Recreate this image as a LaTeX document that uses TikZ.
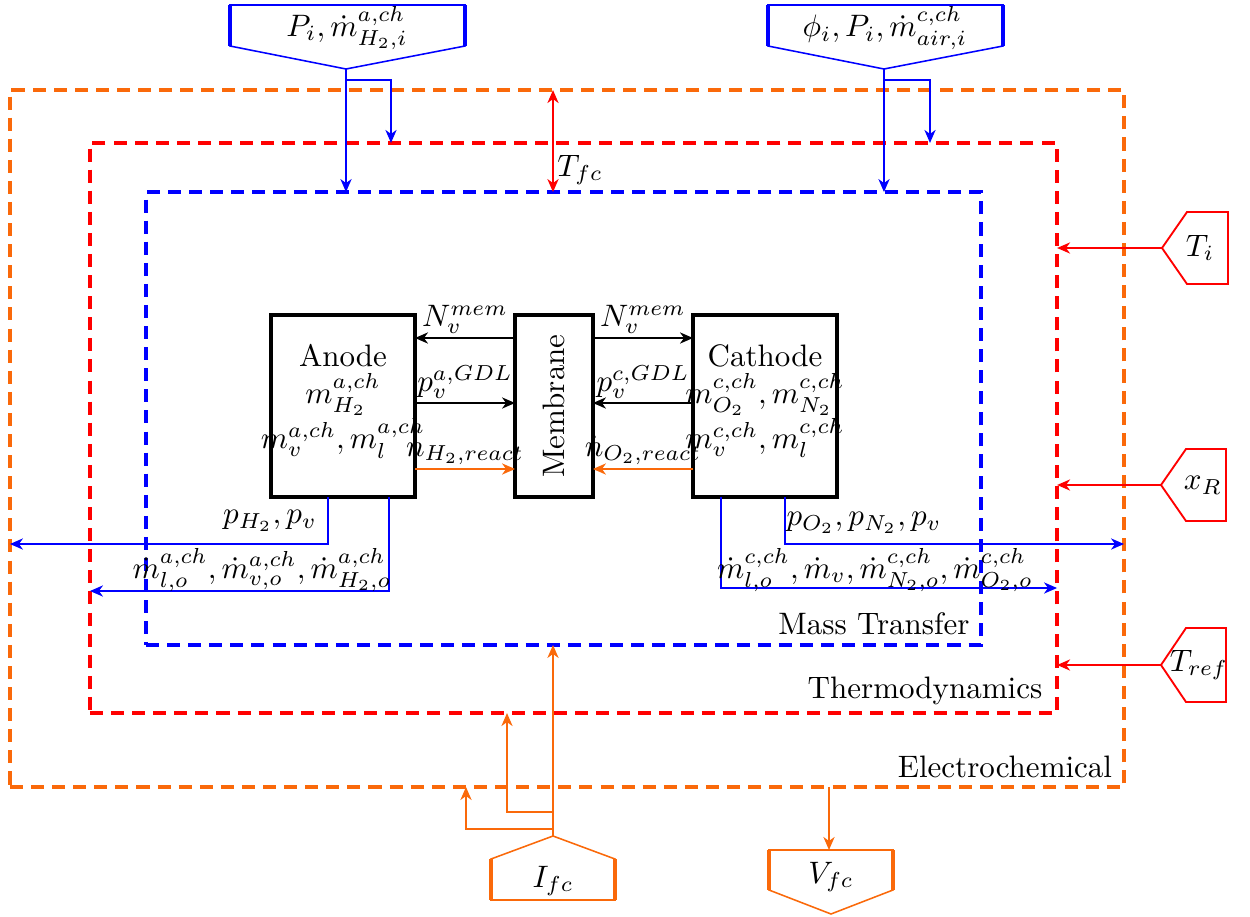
\documentclass[tikz,border=0pt]{standalone}
\usetikzlibrary{arrows.meta}
\definecolor{myorange}{RGB}{250,105,10}
\begin{document}
\begin{tikzpicture}[x=0.3224pt,y=-0.3224pt,
  frame/.style={draw, line width=1.2pt, dash pattern=on 4.2pt off 2.6pt, inner sep=0pt, outer sep=0pt},
  blk/.style={draw, line width=1.2pt, inner sep=0pt, outer sep=0pt},
  tip/.style={-{Stealth[length=4.2pt,width=3.6pt,inset=1.3pt]}},
  bothtip/.style={{Stealth[length=4.2pt,width=3.6pt,inset=1.3pt]}-{Stealth[length=4.2pt,width=3.6pt,inset=1.3pt]}},
  karrow/.style={tip, line width=0.6pt, black},
  barrow/.style={tip, line width=0.6pt, blue},
  rarrow/.style={tip, line width=0.6pt, red},
  oarrow/.style={tip, line width=0.6pt, myorange},
  lbl/.style={inner sep=1pt},
  sigthin/.style={line width=0.5pt},
  sigside/.style={line width=1.4pt},
]
\useasboundingbox (0,0) rectangle (1250,917);

% frames
\node[frame, draw=myorange, minimum width=359.2pt, minimum height=224.7pt] (elec) at (567,438.5) {};
\node[frame, draw=red, minimum width=311.8pt, minimum height=183.8pt] (thermo) at (573.5,428) {};
\node[frame, draw=blue, minimum width=269.2pt, minimum height=146.0pt] (mass) at (563.5,418.5) {};

\node (lmass) at (874,624) {Mass Transfer};
\node (ltherm) at (925,691) {Thermodynamics};
\node (lelec) at (1005,767) {Electrochemical};

% boxes
\node[blk, minimum width=46.4pt, minimum height=58.7pt] (anode) at (343,406) {};
\node[align=center, inner sep=0pt] (anodetxt) at (343,401) {Anode\\ $m^{a,ch}_{H_2}$\\ $m^{a,ch}_v, m^{a,ch}_l$};
\node[blk, minimum width=25.1pt, minimum height=58.7pt] (membrane) at (554,406) {};
\node[rotate=90] (memtxt) at (554,406) {Membrane};
\node[blk, minimum width=46.4pt, minimum height=58.7pt] (cathode) at (765,406) {};
\node[align=center, inner sep=0pt] (cathodetxt) at (765,401) {Cathode\\ $m^{c,ch}_{O_2}, m^{c,ch}_{N_2}$\\ $m^{c,ch}_v, m^{c,ch}_l$};

% arrows between boxes
\draw[karrow] (membrane.west |- 0,338) -- node[lbl, above] {$N_v^{mem}$} (anode.east |- 0,338);
\draw[karrow] (membrane.east |- 0,338) -- node[lbl, above] {$N_v^{mem}$} (cathode.west |- 0,338);
\draw[karrow] (anode.east |- 0,403) -- node[lbl, above] {$p_v^{a,GDL}$} (membrane.west |- 0,403);
\draw[karrow] (cathode.west |- 0,403) -- node[lbl, above] {$p_v^{c,GDL}$} (membrane.east |- 0,403);
\draw[oarrow] (anode.east |- 0,469) -- node[lbl, above, black] {$\dot n_{H_2,react}$} (membrane.west |- 0,469);
\draw[oarrow] (cathode.west |- 0,469) -- node[lbl, above, black] {$\dot n_{O_2,react}$} (membrane.east |- 0,469);

% outputs
\draw[barrow] (anode.south -| 328,0) |- (elec.west |- 0,544);
\node (lph2) at (270,521) {$p_{H_2}, p_v$};
\draw[barrow] (anode.south -| 389,0) |- (thermo.west |- 0,591);
\node (lma) at (262,570) {$\dot m^{a,ch}_{l,o}, \dot m^{a,ch}_{v,o}, \dot m^{a,ch}_{H_2,o}$};
\draw[barrow] (cathode.south -| 785,0) |- (elec.east |- 0,544);
\node (lpo2) at (864,523) {$p_{O_2}, p_{N_2}, p_v$};
\draw[barrow] (cathode.south -| 721,0) |- (thermo.east |- 0,588);
\node (lmc) at (875,570) {$\dot m^{c,ch}_{l,o}, \dot m_v, \dot m^{c,ch}_{N_2,o}, \dot m^{c,ch}_{O_2,o}$};

% top inputs
\node (h2in) at (347,28) {$P_i, \dot m^{a,ch}_{H_2,i}$};
\draw[blue, sigthin] (230,5) -- (465,5) -- (465,46) -- (346,69) -- (230,46) -- cycle;
\draw[blue, sigside] (230,5) -- (230,46) (465,5) -- (465,46);
\coordinate (h2tip) at (346,69);
\coordinate (h2br) at (346,80);
\draw[barrow] (h2tip) -- (h2tip |- mass.north);
\draw[barrow] (h2br) -| (391,0 |- thermo.north);

\node (airin) at (885,28) {$\phi_i, P_i, \dot m^{c,ch}_{air,i}$};
\draw[blue, sigthin] (768,5) -- (1003,5) -- (1003,46) -- (884,69) -- (768,46) -- cycle;
\draw[blue, sigside] (768,5) -- (768,46) (1003,5) -- (1003,46);
\coordinate (airtip) at (884,69);
\coordinate (airbr) at (884,80);
\draw[barrow] (airtip) -- (airtip |- mass.north);
\draw[barrow] (airbr) -| (930,0 |- thermo.north);

% T_fc
\draw[bothtip, line width=0.6pt, red] (553,0 |- elec.north) -- (553,0 |- mass.north);
\node (ltfc) at (580,170) {$T_{fc}$};

% right inputs
\draw[red, line width=0.6pt] (1162,248) -- (1187,212) -- (1228,212) -- (1228,284) -- (1187,284) -- cycle;
\node (ti) at (1200,248) {$T_i$};
\coordinate (titip) at (1162,248);
\draw[rarrow] (titip) -- (thermo.east |- titip);

\draw[red, line width=0.6pt] (1161,485) -- (1186,449) -- (1226,449) -- (1226,521) -- (1186,521) -- cycle;
\node (xr) at (1203,485) {$x_R$};
\coordinate (xrtip) at (1161,485);
\draw[rarrow] (xrtip) -- (thermo.east |- xrtip);

\draw[red, line width=0.6pt] (1161,665) -- (1186,628) -- (1226,628) -- (1226,702) -- (1186,702) -- cycle;
\node (tref) at (1199,665) {$T_{ref}$};
\coordinate (treftip) at (1161,665);
\draw[rarrow] (treftip) -- (thermo.east |- treftip);

% bottom I_fc
\draw[myorange, sigthin] (553,836) -- (615,859) -- (615,900) -- (491,900) -- (491,859) -- cycle;
\draw[myorange, sigside] (491,859) -- (491,900) (615,859) -- (615,900);
\node (ifc) at (553,881) {$I_{fc}$};
\coordinate (ifctip) at (553,836);
\coordinate (ifcb1) at (553,812);
\coordinate (ifcb2) at (553,829);
\draw[oarrow] (ifctip) -- (ifctip |- mass.south);
\draw[oarrow] (ifcb1) -| (507,0 |- thermo.south);
\draw[oarrow] (ifcb2) -| (466,0 |- elec.south);

% bottom V_fc
\draw[myorange, sigthin] (769,850) -- (893,850) -- (893,890) -- (831,914) -- (769,890) -- cycle;
\draw[myorange, sigside] (769,850) -- (769,890) (893,850) -- (893,890);
\node (vfc) at (831,877) {$V_{fc}$};
\coordinate (vfctop) at (829,850);
\draw[oarrow] (vfctop |- elec.south) -- (vfctop);
\end{tikzpicture}
\end{document}
